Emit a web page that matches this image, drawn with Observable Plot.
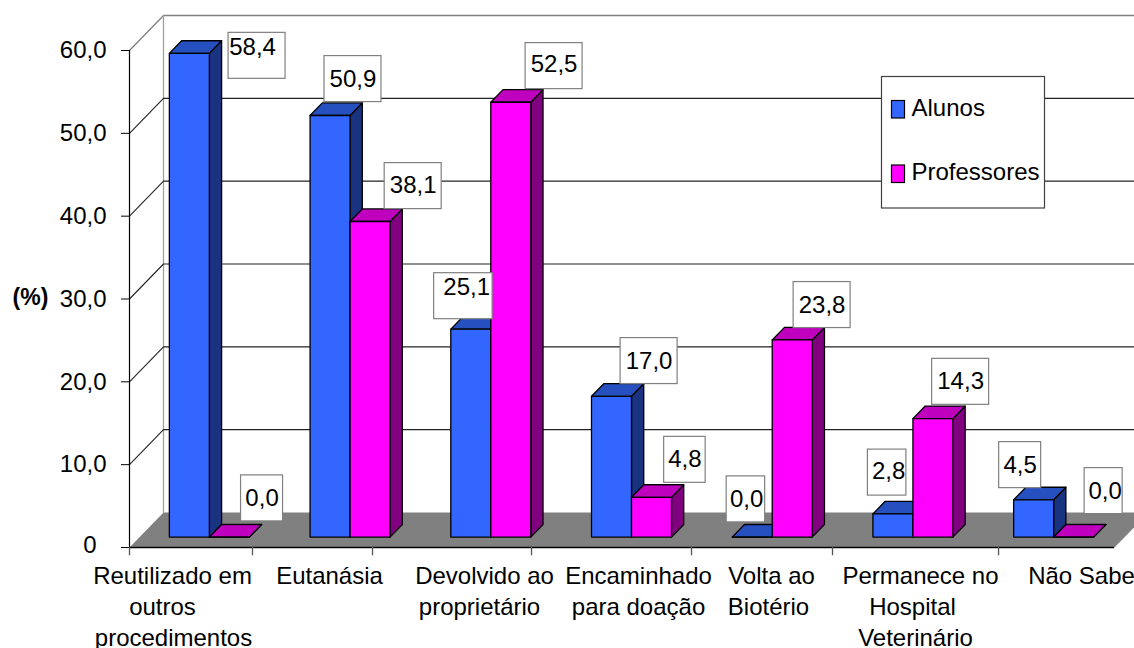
<!DOCTYPE html>
<html>
<head>
<meta charset="utf-8">
<script src="https://cdn.jsdelivr.net/npm/d3@7"></script>
<script src="https://cdn.jsdelivr.net/npm/@observablehq/plot@0.6"></script>
<style>html,body{margin:0;padding:0;background:#fff;overflow:hidden}</style>
</head>
<body>
<div id="chart"></div>
<script>
const categories = ["Reutilizado em\noutros\nprocedimentos","Eutanásia","Devolvido ao\nproprietário","Encaminhado\npara doação","Volta ao\nBiotério","Permanece no\nHospital\nVeterinário","Não Sabe"];
const alunos = [58.4,50.9,25.1,17.0,0.0,2.8,4.5];
const professores = [0.0,38.1,52.5,4.8,23.8,14.3,0.0];
const yTicks = [0,10,20,30,40,50,60];
const seriesNames = ["Alunos","Professores"];

/* layout */
const W=1134,H=648,L=129,R=1114,T=50,B=547;
const font="Liberation Sans, Arial, sans-serif";
const fs=24;
const pxX=(R-L)/7, pxY=(B-T)/60;
const ux=p=>(p-L)/pxX, uy=p=>(B-p)/pxY;      // pixel length helpers -> scale units
const depthX=34/pxX, depthY=35/pxY;          // floor depth in scale units
const P=(x,v,d)=>({x:x+d*depthX,y:v+d*depthY});
const barW=40/pxX, d0=10.4/35, d1=23/35;     // bar width and depth slice
const barShift=-0.6/pxX;
const fmt=v=>v.toFixed(1).replace(".",",");
const colors={
  Alunos:{front:"#3366FF",side:"#1A3380",top:"#2650BF"},
  Professores:{front:"#FF00FF",side:"#800080",top:"#BF00BF"}
};

/* polygons */
const polys=[];let id=0;
function poly(pts,fill){id++;pts.forEach(p=>polys.push({id,fill,x:p.x,y:p.y}));}
function bar(i,s,v){
  const c=colors[s], x0=i+.5+barShift+(s===seriesNames[0]?-barW:0), x1=x0+barW;
  poly([P(x1,0,d0),P(x1,0,d1),P(x1,v,d1),P(x1,v,d0)],c.side);
  poly([P(x0,v,d0),P(x1,v,d0),P(x1,v,d1),P(x0,v,d1)],c.top);
  poly([P(x0,0,d0),P(x1,0,d0),P(x1,v,d0),P(x0,v,d0)],c.front);
}
categories.forEach((_,i)=>{bar(i,seriesNames[0],alunos[i]);bar(i,seriesNames[1],professores[i]);});

/* walls */
const gridLines=yTicks.filter(v=>v>0&&v<60).flatMap(v=>[
  {g:"d"+v,...P(0,v,0)},{g:"d"+v,...P(0,v,1)},{g:"d"+v,...P(7,v,1)}]);
const wallLines=[P(0,60,0),P(0,60,1),P(7,60,1)];
const wallLeft=[P(0,0,1),P(0,60,1)];
const floorPoly=[P(0,0,0),P(7,0,0),P(7,0,1),P(0,0,1)];

/* x ticks */
const xTickPos=[0,.874,1.727,2.857,3.994,4.996,6.176];

/* category label lines: centre px per line */
const lineCentres=[[172,162,173],[329],[484,479],[638,638],[771,768],[920,912,915],[1081]];
const lineDrop=[29,60,91];
const labelRows=categories.flatMap((c,i)=>c.split("\n").map((t,j)=>({t,x:ux(lineCentres[i][j]),y:-lineDrop[j]/pxY})));

/* value labels: box offsets from bar top-front centre and text nudges, in px: dx,dy,width,tdx,tdy */
const offA=[[67.1,2.5,57,-4.5,-9],[22.3,-36.4,57,0,0],[-8,-33,58.5,3.3,-9],[37,-35.2,57,0,0],[-6.9,-37.7,38.5,0.7,0],[-6.4,-41.3,38.5,1.5,-1],[-14.1,-34.7,42,0,0]];
const offP=[[32.1,-38.7,42,0,0],[42.5,-35.4,57,0,-1],[42.7,-36.1,57,0,-2],[32.8,-37.5,41.5,0,-1],[29.3,-34.9,57,0,0],[27.1,-36.8,57,0,-1],[29.4,-46,38,1.5,0]];
const mk=(vals,off,sgn)=>vals.map((v,i)=>{
  const a=P(i+.5+sgn*barW/2,v,d0), o=off[i];
  const x=a.x+o[0]/pxX, y=a.y-o[1]/pxY;
  return {v,x,y,tx:x+o[3]/pxX,ty:y-o[4]/pxY,x1:x-o[2]/2/pxX,x2:x+o[2]/2/pxX,y1:y-23/pxY,y2:y+23/pxY};
});
const valueLabels=[...mk(alunos,offA,-1),...mk(professores,offP,1)];

/* legend */
const legendBox={x1:ux(881.5),x2:ux(1044.5),y1:uy(208),y2:uy(76.5)};
const legendRows=seriesNames.map((s,i)=>({s,
  x1:ux(891.5),x2:ux(904.5),y1:uy([118,182.5][i]),y2:uy([100.5,165][i]),
  tx:ux(911),ty:uy([108,172][i]),fill:colors[s].front}));

const chart=Plot.plot({
  width:W,height:H,marginLeft:L,marginRight:W-R,marginTop:T,marginBottom:H-B,
  x:{domain:[0,7],axis:null},
  y:{domain:[0,60],axis:null},
  color:{type:"identity"},
  style:{fontFamily:font,background:"#fff",color:"#000"},
  marks:[
    Plot.line(floorPoly,{x:"x",y:"y",fill:"#808080",stroke:"none",curve:"linear-closed"}),
    Plot.line(wallLines,{x:"x",y:"y",stroke:"#808080",strokeWidth:1.3}),
    Plot.line(wallLeft,{x:"x",y:"y",stroke:"#a0a0a0",strokeWidth:1.3}),
    Plot.line(gridLines,{x:"x",y:"y",z:"g",stroke:"#222",strokeWidth:1.1}),
    Plot.ruleX([0],{y1:0,y2:60,stroke:"#000",strokeWidth:1.2}),
    Plot.ruleY([0],{x1:0,x2:7,stroke:"#000",strokeWidth:1.4}),
    Plot.ruleX(xTickPos,{y1:0,y2:-1,stroke:"#555",strokeWidth:1.3}),
    Plot.axisY(yTicks,{anchor:"left",tickSize:8,tickPadding:15,fontSize:fs,label:null,tickFormat:v=>v?fmt(v):"",stroke:"#000"}),
    Plot.text([0],{x:0,y:0,text:()=>"0",textAnchor:"end",dx:-33,dy:-2,fontSize:fs,fill:"#000"}),
    Plot.text(["(%)"],{x:0,y:30,text:d=>d,dx:-99,dy:-1,fontWeight:"bold",fontSize:23,fill:"#000"}),
    Plot.line(polys,{x:"x",y:"y",z:"id",fill:"fill",stroke:"#000",strokeWidth:1.3,curve:"linear-closed"}),
    Plot.rect(valueLabels,{x1:"x1",x2:"x2",y1:"y1",y2:"y2",fill:"#fff",stroke:"#808080",strokeWidth:1.2}),
    Plot.text(valueLabels,{x:"tx",y:"ty",text:d=>fmt(d.v),fontSize:fs,fill:"#000"}),
    Plot.text(labelRows,{x:"x",y:"y",text:"t",fontSize:fs,fill:"#000"}),
    Plot.rect([legendBox],{x1:"x1",x2:"x2",y1:"y1",y2:"y2",fill:"#fff",stroke:"#404040",strokeWidth:1.2}),
    Plot.rect(legendRows,{x1:"x1",x2:"x2",y1:"y1",y2:"y2",fill:"fill",stroke:"#000",strokeWidth:1.2}),
    Plot.text(legendRows,{x:"tx",y:"ty",text:"s",textAnchor:"start",fontSize:fs,fill:"#000"})
  ]
});
document.getElementById("chart").appendChild(chart);
</script>
</body>
</html>
